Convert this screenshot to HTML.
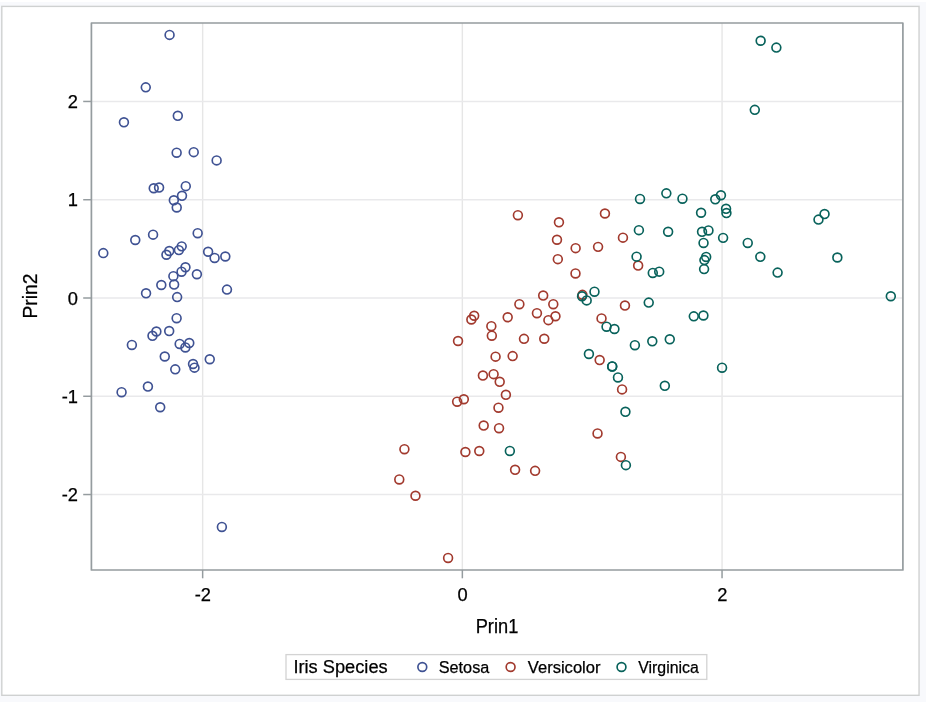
<!DOCTYPE html><html><head><meta charset="utf-8"><title>Iris Species PCA</title><style>
html,body{margin:0;padding:0;background:#f8f9fc;width:926px;height:702px;overflow:hidden}
svg{position:absolute;left:0;top:0;display:block;will-change:transform}
text{font-family:"Liberation Sans",Arial,Helvetica,sans-serif;fill:#000;stroke:#000;stroke-width:0.25px}
</style></head><body>
<svg width="926" height="702" viewBox="0 0 926 702">
<rect x="0" y="0" width="926" height="2" fill="#ffffff"/>
<rect x="1.8" y="6.4" width="917.25" height="688.9" fill="#ffffff" stroke="#cfd1d1" stroke-width="1.4"/>
<line x1="202.65" y1="23" x2="202.65" y2="570" stroke="#e6e6e6" stroke-width="1.4"/>
<line x1="462.35" y1="23" x2="462.35" y2="570" stroke="#e6e6e6" stroke-width="1.4"/>
<line x1="722.05" y1="23" x2="722.05" y2="570" stroke="#e6e6e6" stroke-width="1.4"/>
<line x1="91.4" y1="101.46" x2="902.9" y2="101.46" stroke="#e9e9eb" stroke-width="1.4"/>
<line x1="91.4" y1="199.73" x2="902.9" y2="199.73" stroke="#e9e9eb" stroke-width="1.4"/>
<line x1="91.4" y1="298.00" x2="902.9" y2="298.00" stroke="#e9e9eb" stroke-width="1.4"/>
<line x1="91.4" y1="396.27" x2="902.9" y2="396.27" stroke="#e9e9eb" stroke-width="1.4"/>
<line x1="91.4" y1="494.54" x2="902.9" y2="494.54" stroke="#e9e9eb" stroke-width="1.4"/>
<circle cx="169.26" cy="250.99" r="4.42" fill="none" stroke="#3f5293" stroke-width="1.65"/>
<circle cx="193.04" cy="364.03" r="4.42" fill="none" stroke="#3f5293" stroke-width="1.65"/>
<circle cx="156.38" cy="331.49" r="4.42" fill="none" stroke="#3f5293" stroke-width="1.65"/>
<circle cx="164.77" cy="356.51" r="4.42" fill="none" stroke="#3f5293" stroke-width="1.65"/>
<circle cx="153.07" cy="234.65" r="4.42" fill="none" stroke="#3f5293" stroke-width="1.65"/>
<circle cx="193.73" cy="152.15" r="4.42" fill="none" stroke="#3f5293" stroke-width="1.65"/>
<circle cx="146.05" cy="293.33" r="4.42" fill="none" stroke="#3f5293" stroke-width="1.65"/>
<circle cx="173.38" cy="276.14" r="4.42" fill="none" stroke="#3f5293" stroke-width="1.65"/>
<circle cx="160.21" cy="407.24" r="4.42" fill="none" stroke="#3f5293" stroke-width="1.65"/>
<circle cx="179.66" cy="343.94" r="4.42" fill="none" stroke="#3f5293" stroke-width="1.65"/>
<circle cx="181.99" cy="195.78" r="4.42" fill="none" stroke="#3f5293" stroke-width="1.65"/>
<circle cx="161.31" cy="284.97" r="4.42" fill="none" stroke="#3f5293" stroke-width="1.65"/>
<circle cx="175.25" cy="369.37" r="4.42" fill="none" stroke="#3f5293" stroke-width="1.65"/>
<circle cx="121.58" cy="392.17" r="4.42" fill="none" stroke="#3f5293" stroke-width="1.65"/>
<circle cx="177.80" cy="115.82" r="4.42" fill="none" stroke="#3f5293" stroke-width="1.65"/>
<circle cx="169.58" cy="34.90" r="4.42" fill="none" stroke="#3f5293" stroke-width="1.65"/>
<circle cx="176.65" cy="152.69" r="4.42" fill="none" stroke="#3f5293" stroke-width="1.65"/>
<circle cx="178.88" cy="250.12" r="4.42" fill="none" stroke="#3f5293" stroke-width="1.65"/>
<circle cx="216.64" cy="160.39" r="4.42" fill="none" stroke="#3f5293" stroke-width="1.65"/>
<circle cx="159.08" cy="187.54" r="4.42" fill="none" stroke="#3f5293" stroke-width="1.65"/>
<circle cx="214.61" cy="257.96" r="4.42" fill="none" stroke="#3f5293" stroke-width="1.65"/>
<circle cx="176.73" cy="207.49" r="4.42" fill="none" stroke="#3f5293" stroke-width="1.65"/>
<circle cx="103.30" cy="253.11" r="4.42" fill="none" stroke="#3f5293" stroke-width="1.65"/>
<circle cx="226.98" cy="289.62" r="4.42" fill="none" stroke="#3f5293" stroke-width="1.65"/>
<circle cx="174.12" cy="284.56" r="4.42" fill="none" stroke="#3f5293" stroke-width="1.65"/>
<circle cx="209.75" cy="359.27" r="4.42" fill="none" stroke="#3f5293" stroke-width="1.65"/>
<circle cx="196.90" cy="274.28" r="4.42" fill="none" stroke="#3f5293" stroke-width="1.65"/>
<circle cx="181.70" cy="246.37" r="4.42" fill="none" stroke="#3f5293" stroke-width="1.65"/>
<circle cx="185.46" cy="267.32" r="4.42" fill="none" stroke="#3f5293" stroke-width="1.65"/>
<circle cx="169.19" cy="331.08" r="4.42" fill="none" stroke="#3f5293" stroke-width="1.65"/>
<circle cx="185.38" cy="347.42" r="4.42" fill="none" stroke="#3f5293" stroke-width="1.65"/>
<circle cx="225.31" cy="256.50" r="4.42" fill="none" stroke="#3f5293" stroke-width="1.65"/>
<circle cx="123.93" cy="122.33" r="4.42" fill="none" stroke="#3f5293" stroke-width="1.65"/>
<circle cx="145.77" cy="87.35" r="4.42" fill="none" stroke="#3f5293" stroke-width="1.65"/>
<circle cx="189.28" cy="343.07" r="4.42" fill="none" stroke="#3f5293" stroke-width="1.65"/>
<circle cx="176.62" cy="318.19" r="4.42" fill="none" stroke="#3f5293" stroke-width="1.65"/>
<circle cx="197.67" cy="233.21" r="4.42" fill="none" stroke="#3f5293" stroke-width="1.65"/>
<circle cx="135.27" cy="239.99" r="4.42" fill="none" stroke="#3f5293" stroke-width="1.65"/>
<circle cx="147.92" cy="386.56" r="4.42" fill="none" stroke="#3f5293" stroke-width="1.65"/>
<circle cx="181.55" cy="271.67" r="4.42" fill="none" stroke="#3f5293" stroke-width="1.65"/>
<circle cx="166.44" cy="254.74" r="4.42" fill="none" stroke="#3f5293" stroke-width="1.65"/>
<circle cx="221.88" cy="526.93" r="4.42" fill="none" stroke="#3f5293" stroke-width="1.65"/>
<circle cx="131.87" cy="344.92" r="4.42" fill="none" stroke="#3f5293" stroke-width="1.65"/>
<circle cx="208.12" cy="251.74" r="4.42" fill="none" stroke="#3f5293" stroke-width="1.65"/>
<circle cx="185.78" cy="186.13" r="4.42" fill="none" stroke="#3f5293" stroke-width="1.65"/>
<circle cx="194.49" cy="367.64" r="4.42" fill="none" stroke="#3f5293" stroke-width="1.65"/>
<circle cx="153.73" cy="188.26" r="4.42" fill="none" stroke="#3f5293" stroke-width="1.65"/>
<circle cx="152.48" cy="335.83" r="4.42" fill="none" stroke="#3f5293" stroke-width="1.65"/>
<circle cx="173.82" cy="200.26" r="4.42" fill="none" stroke="#3f5293" stroke-width="1.65"/>
<circle cx="177.14" cy="297.10" r="4.42" fill="none" stroke="#3f5293" stroke-width="1.65"/>
<circle cx="604.94" cy="213.48" r="4.42" fill="none" stroke="#A23A2E" stroke-width="1.65"/>
<circle cx="557.00" cy="239.76" r="4.42" fill="none" stroke="#A23A2E" stroke-width="1.65"/>
<circle cx="622.95" cy="237.64" r="4.42" fill="none" stroke="#A23A2E" stroke-width="1.65"/>
<circle cx="515.09" cy="469.83" r="4.42" fill="none" stroke="#A23A2E" stroke-width="1.65"/>
<circle cx="601.53" cy="318.41" r="4.42" fill="none" stroke="#A23A2E" stroke-width="1.65"/>
<circle cx="512.65" cy="356.11" r="4.42" fill="none" stroke="#A23A2E" stroke-width="1.65"/>
<circle cx="558.96" cy="222.29" r="4.42" fill="none" stroke="#A23A2E" stroke-width="1.65"/>
<circle cx="399.28" cy="479.43" r="4.42" fill="none" stroke="#A23A2E" stroke-width="1.65"/>
<circle cx="582.44" cy="294.84" r="4.42" fill="none" stroke="#A23A2E" stroke-width="1.65"/>
<circle cx="463.83" cy="399.27" r="4.42" fill="none" stroke="#A23A2E" stroke-width="1.65"/>
<circle cx="448.09" cy="557.94" r="4.42" fill="none" stroke="#A23A2E" stroke-width="1.65"/>
<circle cx="519.38" cy="304.20" r="4.42" fill="none" stroke="#A23A2E" stroke-width="1.65"/>
<circle cx="535.10" cy="470.84" r="4.42" fill="none" stroke="#A23A2E" stroke-width="1.65"/>
<circle cx="555.47" cy="316.24" r="4.42" fill="none" stroke="#A23A2E" stroke-width="1.65"/>
<circle cx="458.03" cy="341.00" r="4.42" fill="none" stroke="#A23A2E" stroke-width="1.65"/>
<circle cx="575.64" cy="248.14" r="4.42" fill="none" stroke="#A23A2E" stroke-width="1.65"/>
<circle cx="507.68" cy="317.23" r="4.42" fill="none" stroke="#A23A2E" stroke-width="1.65"/>
<circle cx="482.90" cy="375.58" r="4.42" fill="none" stroke="#A23A2E" stroke-width="1.65"/>
<circle cx="620.90" cy="456.89" r="4.42" fill="none" stroke="#A23A2E" stroke-width="1.65"/>
<circle cx="483.69" cy="425.58" r="4.42" fill="none" stroke="#A23A2E" stroke-width="1.65"/>
<circle cx="557.82" cy="259.16" r="4.42" fill="none" stroke="#A23A2E" stroke-width="1.65"/>
<circle cx="523.99" cy="338.87" r="4.42" fill="none" stroke="#A23A2E" stroke-width="1.65"/>
<circle cx="622.07" cy="389.41" r="4.42" fill="none" stroke="#A23A2E" stroke-width="1.65"/>
<circle cx="544.25" cy="338.78" r="4.42" fill="none" stroke="#A23A2E" stroke-width="1.65"/>
<circle cx="553.29" cy="304.21" r="4.42" fill="none" stroke="#A23A2E" stroke-width="1.65"/>
<circle cx="575.50" cy="273.44" r="4.42" fill="none" stroke="#A23A2E" stroke-width="1.65"/>
<circle cx="624.96" cy="305.57" r="4.42" fill="none" stroke="#A23A2E" stroke-width="1.65"/>
<circle cx="638.15" cy="265.55" r="4.42" fill="none" stroke="#A23A2E" stroke-width="1.65"/>
<circle cx="548.39" cy="320.13" r="4.42" fill="none" stroke="#A23A2E" stroke-width="1.65"/>
<circle cx="457.14" cy="401.69" r="4.42" fill="none" stroke="#A23A2E" stroke-width="1.65"/>
<circle cx="479.28" cy="451.01" r="4.42" fill="none" stroke="#A23A2E" stroke-width="1.65"/>
<circle cx="465.39" cy="452.01" r="4.42" fill="none" stroke="#A23A2E" stroke-width="1.65"/>
<circle cx="493.61" cy="374.13" r="4.42" fill="none" stroke="#A23A2E" stroke-width="1.65"/>
<circle cx="599.67" cy="360.08" r="4.42" fill="none" stroke="#A23A2E" stroke-width="1.65"/>
<circle cx="491.34" cy="326.19" r="4.42" fill="none" stroke="#A23A2E" stroke-width="1.65"/>
<circle cx="517.89" cy="215.18" r="4.42" fill="none" stroke="#A23A2E" stroke-width="1.65"/>
<circle cx="598.07" cy="246.87" r="4.42" fill="none" stroke="#A23A2E" stroke-width="1.65"/>
<circle cx="597.53" cy="433.45" r="4.42" fill="none" stroke="#A23A2E" stroke-width="1.65"/>
<circle cx="471.36" cy="319.50" r="4.42" fill="none" stroke="#A23A2E" stroke-width="1.65"/>
<circle cx="499.04" cy="428.20" r="4.42" fill="none" stroke="#A23A2E" stroke-width="1.65"/>
<circle cx="498.47" cy="407.70" r="4.42" fill="none" stroke="#A23A2E" stroke-width="1.65"/>
<circle cx="543.18" cy="295.56" r="4.42" fill="none" stroke="#A23A2E" stroke-width="1.65"/>
<circle cx="505.90" cy="394.81" r="4.42" fill="none" stroke="#A23A2E" stroke-width="1.65"/>
<circle cx="415.48" cy="495.77" r="4.42" fill="none" stroke="#A23A2E" stroke-width="1.65"/>
<circle cx="499.70" cy="381.81" r="4.42" fill="none" stroke="#A23A2E" stroke-width="1.65"/>
<circle cx="474.17" cy="315.75" r="4.42" fill="none" stroke="#A23A2E" stroke-width="1.65"/>
<circle cx="491.82" cy="335.70" r="4.42" fill="none" stroke="#A23A2E" stroke-width="1.65"/>
<circle cx="536.94" cy="313.17" r="4.42" fill="none" stroke="#A23A2E" stroke-width="1.65"/>
<circle cx="404.41" cy="449.20" r="4.42" fill="none" stroke="#A23A2E" stroke-width="1.65"/>
<circle cx="495.58" cy="356.65" r="4.42" fill="none" stroke="#A23A2E" stroke-width="1.65"/>
<circle cx="701.07" cy="212.75" r="4.42" fill="none" stroke="#08625b" stroke-width="1.65"/>
<circle cx="612.20" cy="366.45" r="4.42" fill="none" stroke="#08625b" stroke-width="1.65"/>
<circle cx="747.75" cy="242.96" r="4.42" fill="none" stroke="#08625b" stroke-width="1.65"/>
<circle cx="648.73" cy="302.60" r="4.42" fill="none" stroke="#08625b" stroke-width="1.65"/>
<circle cx="704.08" cy="269.10" r="4.42" fill="none" stroke="#08625b" stroke-width="1.65"/>
<circle cx="818.49" cy="219.61" r="4.42" fill="none" stroke="#08625b" stroke-width="1.65"/>
<circle cx="509.85" cy="450.94" r="4.42" fill="none" stroke="#08625b" stroke-width="1.65"/>
<circle cx="760.32" cy="256.86" r="4.42" fill="none" stroke="#08625b" stroke-width="1.65"/>
<circle cx="722.05" cy="367.68" r="4.42" fill="none" stroke="#08625b" stroke-width="1.65"/>
<circle cx="754.80" cy="109.85" r="4.42" fill="none" stroke="#08625b" stroke-width="1.65"/>
<circle cx="638.90" cy="230.15" r="4.42" fill="none" stroke="#08625b" stroke-width="1.65"/>
<circle cx="669.76" cy="339.30" r="4.42" fill="none" stroke="#08625b" stroke-width="1.65"/>
<circle cx="706.16" cy="256.94" r="4.42" fill="none" stroke="#08625b" stroke-width="1.65"/>
<circle cx="625.43" cy="411.83" r="4.42" fill="none" stroke="#08625b" stroke-width="1.65"/>
<circle cx="652.29" cy="341.32" r="4.42" fill="none" stroke="#08625b" stroke-width="1.65"/>
<circle cx="668.13" cy="231.77" r="4.42" fill="none" stroke="#08625b" stroke-width="1.65"/>
<circle cx="652.78" cy="272.96" r="4.42" fill="none" stroke="#08625b" stroke-width="1.65"/>
<circle cx="776.36" cy="47.60" r="4.42" fill="none" stroke="#08625b" stroke-width="1.65"/>
<circle cx="890.81" cy="296.26" r="4.42" fill="none" stroke="#08625b" stroke-width="1.65"/>
<circle cx="625.90" cy="465.16" r="4.42" fill="none" stroke="#08625b" stroke-width="1.65"/>
<circle cx="726.06" cy="208.83" r="4.42" fill="none" stroke="#08625b" stroke-width="1.65"/>
<circle cx="588.92" cy="354.00" r="4.42" fill="none" stroke="#08625b" stroke-width="1.65"/>
<circle cx="837.35" cy="257.49" r="4.42" fill="none" stroke="#08625b" stroke-width="1.65"/>
<circle cx="634.89" cy="345.19" r="4.42" fill="none" stroke="#08625b" stroke-width="1.65"/>
<circle cx="682.45" cy="198.69" r="4.42" fill="none" stroke="#08625b" stroke-width="1.65"/>
<circle cx="715.27" cy="199.30" r="4.42" fill="none" stroke="#08625b" stroke-width="1.65"/>
<circle cx="614.43" cy="328.99" r="4.42" fill="none" stroke="#08625b" stroke-width="1.65"/>
<circle cx="594.48" cy="291.70" r="4.42" fill="none" stroke="#08625b" stroke-width="1.65"/>
<circle cx="693.79" cy="316.35" r="4.42" fill="none" stroke="#08625b" stroke-width="1.65"/>
<circle cx="703.54" cy="242.93" r="4.42" fill="none" stroke="#08625b" stroke-width="1.65"/>
<circle cx="777.60" cy="272.61" r="4.42" fill="none" stroke="#08625b" stroke-width="1.65"/>
<circle cx="760.65" cy="40.77" r="4.42" fill="none" stroke="#08625b" stroke-width="1.65"/>
<circle cx="703.41" cy="315.49" r="4.42" fill="none" stroke="#08625b" stroke-width="1.65"/>
<circle cx="606.54" cy="326.69" r="4.42" fill="none" stroke="#08625b" stroke-width="1.65"/>
<circle cx="617.97" cy="377.46" r="4.42" fill="none" stroke="#08625b" stroke-width="1.65"/>
<circle cx="824.56" cy="214.08" r="4.42" fill="none" stroke="#08625b" stroke-width="1.65"/>
<circle cx="666.34" cy="193.34" r="4.42" fill="none" stroke="#08625b" stroke-width="1.65"/>
<circle cx="636.58" cy="256.63" r="4.42" fill="none" stroke="#08625b" stroke-width="1.65"/>
<circle cx="582.04" cy="296.31" r="4.42" fill="none" stroke="#08625b" stroke-width="1.65"/>
<circle cx="702.04" cy="231.78" r="4.42" fill="none" stroke="#08625b" stroke-width="1.65"/>
<circle cx="723.10" cy="237.87" r="4.42" fill="none" stroke="#08625b" stroke-width="1.65"/>
<circle cx="708.47" cy="230.46" r="4.42" fill="none" stroke="#08625b" stroke-width="1.65"/>
<circle cx="612.20" cy="366.45" r="4.42" fill="none" stroke="#08625b" stroke-width="1.65"/>
<circle cx="726.43" cy="213.03" r="4.42" fill="none" stroke="#08625b" stroke-width="1.65"/>
<circle cx="720.94" cy="195.24" r="4.42" fill="none" stroke="#08625b" stroke-width="1.65"/>
<circle cx="704.42" cy="260.10" r="4.42" fill="none" stroke="#08625b" stroke-width="1.65"/>
<circle cx="664.83" cy="385.82" r="4.42" fill="none" stroke="#08625b" stroke-width="1.65"/>
<circle cx="659.21" cy="271.65" r="4.42" fill="none" stroke="#08625b" stroke-width="1.65"/>
<circle cx="640.01" cy="198.96" r="4.42" fill="none" stroke="#08625b" stroke-width="1.65"/>
<circle cx="586.67" cy="300.38" r="4.42" fill="none" stroke="#08625b" stroke-width="1.65"/>
<rect x="91.4" y="23" width="811.5" height="547" fill="none" stroke="#959c9f" stroke-width="1.7" stroke-linejoin="round"/>
<line x1="202.65" y1="570" x2="202.65" y2="578.3" stroke="#959c9f" stroke-width="1.5"/>
<line x1="462.35" y1="570" x2="462.35" y2="578.3" stroke="#959c9f" stroke-width="1.5"/>
<line x1="722.05" y1="570" x2="722.05" y2="578.3" stroke="#959c9f" stroke-width="1.5"/>
<line x1="83.2" y1="101.46" x2="91.4" y2="101.46" stroke="#959c9f" stroke-width="1.5"/>
<line x1="83.2" y1="199.73" x2="91.4" y2="199.73" stroke="#959c9f" stroke-width="1.5"/>
<line x1="83.2" y1="298.00" x2="91.4" y2="298.00" stroke="#959c9f" stroke-width="1.5"/>
<line x1="83.2" y1="396.27" x2="91.4" y2="396.27" stroke="#959c9f" stroke-width="1.5"/>
<line x1="83.2" y1="494.54" x2="91.4" y2="494.54" stroke="#959c9f" stroke-width="1.5"/>
<text x="202.85" y="600.9" font-size="18.3" text-anchor="middle">-2</text>
<text x="462.55" y="600.9" font-size="18.3" text-anchor="middle">0</text>
<text x="722.25" y="600.9" font-size="18.3" text-anchor="middle">2</text>
<text x="78" y="107.96" font-size="18.3" text-anchor="end">2</text>
<text x="78" y="206.23" font-size="18.3" text-anchor="end">1</text>
<text x="78" y="304.50" font-size="18.3" text-anchor="end">0</text>
<text x="78" y="402.77" font-size="18.3" text-anchor="end">-1</text>
<text x="78" y="501.04" font-size="18.3" text-anchor="end">-2</text>
<text x="497.0" y="632.8" font-size="19.3" text-anchor="middle" textLength="42.6" lengthAdjust="spacingAndGlyphs">Prin1</text>
<text transform="translate(37.05,296.0) rotate(-90)" x="0" y="0" font-size="19.3" text-anchor="middle">Prin2</text>
<rect x="286" y="654.6" width="420.8" height="24.8" fill="#ffffff" stroke="#d3d3d3" stroke-width="1.3"/>
<text x="293.4" y="672.8" font-size="18.3" textLength="94.3" lengthAdjust="spacingAndGlyphs">Iris Species</text>
<circle cx="422.30" cy="667" r="4.42" fill="none" stroke="#3f5293" stroke-width="1.65"/>
<circle cx="510.60" cy="667" r="4.42" fill="none" stroke="#A23A2E" stroke-width="1.65"/>
<circle cx="621.50" cy="667" r="4.42" fill="none" stroke="#08625b" stroke-width="1.65"/>
<text x="438.75" y="672.6" font-size="17.25" textLength="50.55" lengthAdjust="spacingAndGlyphs">Setosa</text>
<text x="527.8" y="672.6" font-size="17.25" textLength="72.7" lengthAdjust="spacingAndGlyphs">Versicolor</text>
<text x="638.2" y="672.6" font-size="17.25" textLength="60.6" lengthAdjust="spacingAndGlyphs">Virginica</text>
</svg></body></html>
